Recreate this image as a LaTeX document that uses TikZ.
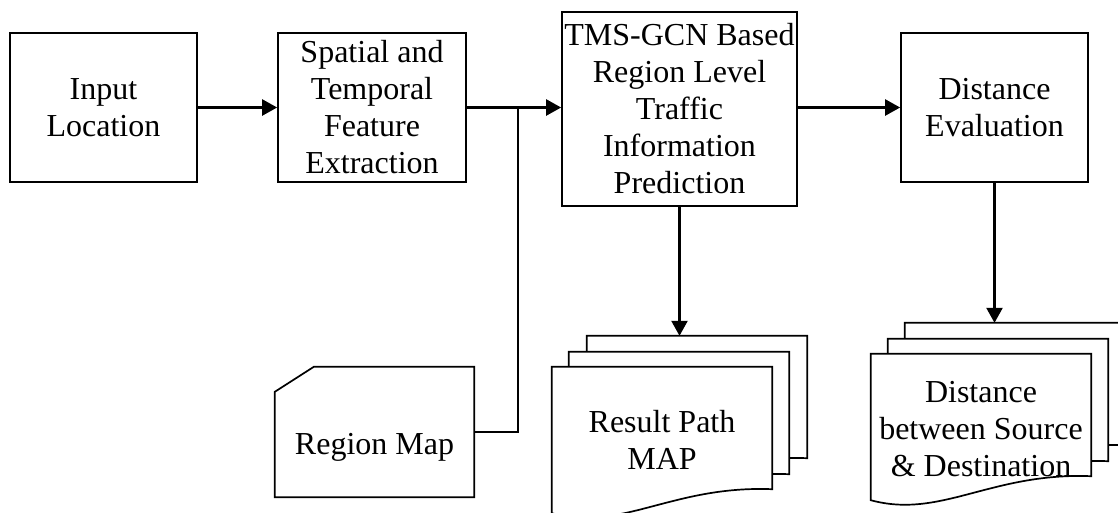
\documentclass[tikz,border=0pt]{standalone}
\usepackage{fontspec}
\setmainfont{Liberation Serif}
\usetikzlibrary{arrows.meta,calc}
\newcommand{\docshape}[1]{%
  \filldraw[shapeline, fill=white] (#1.north west) -- (#1.north east) -- (#1.south east)
    .. controls ($(#1.south west)+(120,-4)$) and ($(#1.south west)+(70,43)$) .. ($(#1.south west)+(0,24)$) -- cycle;}
\begin{document}
\begin{tikzpicture}[x=1pt,y=-1pt,
  every node/.style={font=\fontsize{32}{37}\selectfont, align=center, inner sep=0pt},
  shapeline/.style={line width=1.7pt},
  procbox/.style={draw, line width=1.7pt, minimum width=#1},
  docnode/.style={minimum width=220pt, minimum height=122pt},
  conn/.style={line width=2.4pt},
  arr/.style={conn, -{Triangle[length=15pt,width=16pt]}}]
\useasboundingbox (0,0) rectangle (1118,512);
\clip (0,0) rectangle (1118,512);

% process boxes
\node[procbox=187pt, minimum height=149pt] (inp) at (103.5,107.5) {Input\\Location};
\node[procbox=188pt, minimum height=149pt] (sp) at (372,107.5) {Spatial and\\Temporal\\Feature\\Extraction};
\node[procbox=235pt, minimum height=194pt] (tms) at (679.5,109) {TMS-GCN Based\\Region Level\\Traffic\\Information\\Prediction};
\node[procbox=187pt, minimum height=149pt] (de) at (994.5,107.5) {Distance\\Evaluation};

% region map (manual input shape)
\node[minimum width=199pt, minimum height=130pt] (rm) at (374.5,432) {};
\draw[shapeline] ($(rm.north west)+(0,25)$) -- ($(rm.north west)+(39,0)$) -- (rm.north east) -- (rm.south east) -- (rm.south west) -- cycle;
\node (rmt) at ([yshift=-15pt]rm.center) {Region Map};

% result path documents
\node[docnode] (rback) at (697,397) {};
\node[docnode] (rmid) at (679,413) {};
\node[docnode] (rfront) at (662,428) {};
\docshape{rback}
\docshape{rmid}
\docshape{rfront}
\node (rtext) at ([yshift=-12pt]rfront.center) {Result Path\\MAP};

% distance documents
\node[docnode] (dback) at (1015,384) {};
\node[docnode] (dmid) at (998,400) {};
\node[docnode] (dfront) at (981,415) {};
\docshape{dback}
\docshape{dmid}
\docshape{dfront}
\node (dtext) at ([yshift=-14pt]dfront.center) {Distance\\between Source\\\& Destination};

% connectors
\coordinate (j) at (518,107.5);
\draw[arr] (inp.east) -- (sp.west);
\draw[conn] (sp.east) -- (j);
\draw[arr] (j) -- (j -| tms.west);
\draw[conn] (rm.east) -| (j);
\draw[arr] (tms.east |- de.west) -- (de.west);
\draw[arr] (tms.south) -- (tms.south |- rback.north);
\draw[arr] (de.south) -- (de.south |- dback.north);
\end{tikzpicture}
\end{document}
